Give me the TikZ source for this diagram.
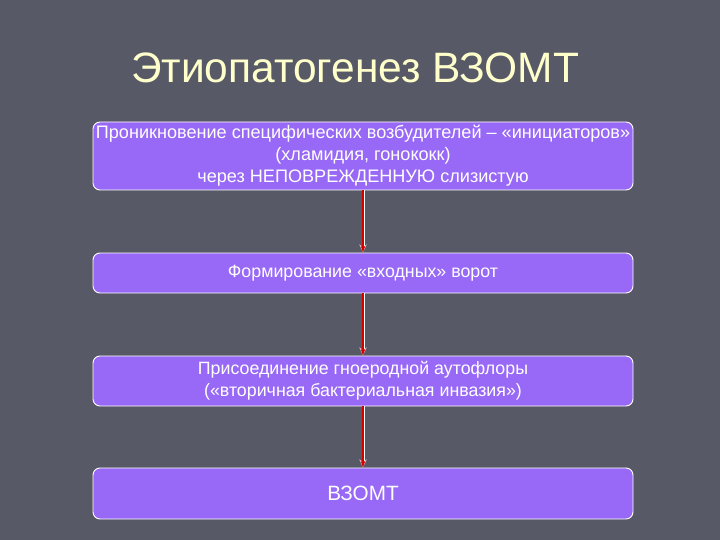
\documentclass[tikz,border=0pt]{standalone}
\usepackage{fontspec}
\setmainfont{Liberation Sans}
\usetikzlibrary{arrows.meta}
\definecolor{slidebg}{HTML}{575A66}
\definecolor{boxfill}{HTML}{9868F6}
\definecolor{titlecol}{HTML}{FFFFCC}
\definecolor{arrowred}{HTML}{D40000}
\tikzset{
  stage/.style={
    draw=white, fill=boxfill, rounded corners=7pt, line width=0.9pt,
    minimum width=540pt, align=center,
    text=white, font=\fontsize{17.8}{22}\selectfont, inner sep=0pt},
  flow arrow/.style={
    arrowred, line width=1.6pt,
    -{Stealth[length=7pt,width=5pt]},
    preaction={draw=white, line width=3pt, -{Stealth[length=8pt,width=7pt]}}},
}

\begin{document}
\begin{tikzpicture}[x=1pt,y=-1pt]
            % Background
            \fill[slidebg] (0,0) rectangle (720,540);
            \useasboundingbox (0,0) rectangle (720,540);

            % Title
            \node[text=titlecol, font=\fontsize{42.5}{48}\selectfont] (title) at (355,68) {Этиопатогенез ВЗОМТ};

            % Stages
            \node[stage, minimum height=68pt, font=\fontsize{18.1}{22}\selectfont] (s1) at (363,156)
                {Проникновение специфических возбудителей – «инициаторов»\\ (хламидия, гонококк)\\ через НЕПОВРЕЖДЕННУЮ слизистую};
            \node[stage, minimum height=40pt] (s2) at (363,273) {Формирование «входных» ворот};
            \node[stage, minimum height=50pt] (s3) at (363,381)
                {Присоединение гноеродной аутофлоры\\ («вторичная бактериальная инвазия»)};
            \node[stage, minimum height=51pt, font=\fontsize{20.7}{24}\selectfont] (s4) at (363,493.5) {ВЗОМТ};

            % Arrows
            \draw[flow arrow] (s1.south) -- (s2.north);
            \draw[flow arrow] (s2.south) -- (s3.north);
            \draw[flow arrow] (s3.south) -- (s4.north);
        \end{tikzpicture}
\end{document}
